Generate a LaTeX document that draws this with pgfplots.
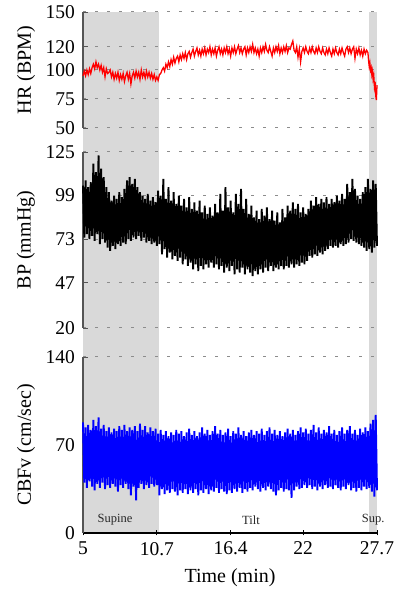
\documentclass[border=0pt]{standalone}
\usepackage{fontspec}
\setmainfont{Liberation Serif}
\usepackage{pgfplots}
\pgfplotsset{compat=1.18}
\definecolor{shade}{RGB}{217,217,217}
\definecolor{axgray}{RGB}{85,85,85}
\definecolor{gridgray}{RGB}{140,140,140}
\pgfplotsset{
  panel/.style={
    set layers, clip=false,
    scale only axis, width=294pt,
    xmin=5, xmax=27.7,
    axis y line=left,
    y axis line style={-, line width=1.8pt, axgray},
    tick align=inside,
    major tick length=5pt,
    ytick style={axgray, line width=0.8pt},
    ymajorgrids,
    major grid style={gridgray, line width=1pt, dash pattern=on 2.5pt off 9.5pt},
    /pgf/number format/assume math mode=true,
    tick label style={font=\fontsize{19.5}{22}\selectfont},
    label style={font=\fontsize{20}{23}\selectfont},
    yticklabel style={xshift=-4.5pt},
    ylabel style={at={(axis description cs:-0.194,0.5)}, anchor=center},
  }
}
\begin{document}
\begin{tikzpicture}
\path (0,0) rectangle (394pt,593pt);
% ---------------- HR ----------------
\begin{axis}[panel, at={(83pt,465pt)}, anchor=south west, height=116pt,
  axis x line=none, xtick=\empty,
  ymin=50, ymax=150, ytick={50,75,100,120,150}, ylabel={HR (BPM)}]
\addplot[fill=shade, draw=none, on layer=axis background, forget plot] coordinates {(5,29.3) (10.84,29.3) (10.84,150) (5,150)} -- cycle;
\addplot[fill=shade, draw=none, on layer=axis background, forget plot] coordinates {(27.08,29.3) (27.7,29.3) (27.7,150) (27.08,150)} -- cycle;
\addplot[red, line width=1.3pt] coordinates {
(5.0,95)(5.1,99)(5.2,95)(5.3,100)(5.4,96)(5.5,101)(5.6,97)(5.7,102)(5.8,105)(5.9,101)
(6.0,107)(6.1,102)(6.2,105)(6.3,100)(6.4,104)(6.5,98)(6.6,102)(6.7,94)(6.8,101)(6.9,97)
(7.0,98)(7.1,100)(7.2,94)(7.3,98)(7.4,92)(7.5,97)(7.6,93)(7.7,98)(7.8,91)(7.9,96)
(8.0,92)(8.1,97)(8.2,90)(8.3,95)(8.4,98)(8.5,92)(8.6,97)(8.7,88)(8.8,95)(8.9,98)
(9.0,93)(9.1,99)(9.2,94)(9.3,98)(9.4,92)(9.5,100)(9.6,94)(9.7,98)(9.8,93)(9.9,99)
(10.0,94)(10.1,98)(10.2,93)(10.3,97)(10.4,92)(10.5,96)(10.6,91)(10.7,94)(10.8,91)(10.9,96)
(11.0,97)(11.1,100)(11.2,102)(11.3,99)(11.4,105)(11.5,102)(11.6,107)(11.7,103)(11.8,109)(11.9,105)
(12.0,111)(12.1,106)(12.2,110)(12.3,112)(12.4,107)(12.5,113)(12.6,109)(12.7,114)(12.8,110)(12.9,115)
(13.0,109)(13.1,114)(13.2,116)(13.3,111)(13.4,115)(13.5,118)(13.6,112)(13.7,116)(13.8,119)(13.9,113)
(14.0,117)(14.1,112)(14.2,118)(14.3,114)(14.4,119)(14.5,113)(14.6,118)(14.7,115)(14.8,120)(14.9,113)
(15.0,118)(15.1,114)(15.2,119)(15.3,112)(15.4,117)(15.5,120)(15.6,114)(15.7,118)(15.8,113)(15.9,119)
(16.0,115)(16.1,120)(16.2,114)(16.3,118)(16.4,112)(16.5,119)(16.6,115)(16.7,120)(16.8,114)(16.9,118)
(17.0,121)(17.1,115)(17.2,119)(17.3,114)(17.4,118)(17.5,120)(17.6,113)(17.7,119)(17.8,115)(17.9,120)
(18.0,116)(18.1,122)(18.2,115)(18.3,119)(18.4,114)(18.5,118)(18.6,112)(18.7,119)(18.8,115)(18.9,120)
(19.0,116)(19.1,122)(19.2,117)(19.3,115)(19.4,120)(19.5,116)(19.6,112)(19.7,119)(19.8,115)(19.9,120)
(20.0,116)(20.1,121)(20.2,114)(20.3,119)(20.4,115)(20.5,120)(20.6,116)(20.7,121)(20.8,115)(20.9,119)
(21.0,118)(21.1,122)(21.2,125)(21.3,117)(21.4,115)(21.5,120)(21.6,111)(21.7,118)(21.8,107)(21.9,116)
(22.0,119)(22.1,115)(22.2,120)(22.3,116)(22.4,114)(22.5,119)(22.6,115)(22.7,120)(22.8,116)(22.9,114)
(23.0,119)(23.1,115)(23.2,120)(23.3,116)(23.4,114)(23.5,119)(23.6,115)(23.7,113)(23.8,118)(23.9,114)
(24.0,119)(24.1,115)(24.2,112)(24.3,118)(24.4,114)(24.5,119)(24.6,115)(24.7,113)(24.8,118)(24.9,114)
(25.0,119)(25.1,115)(25.2,112)(25.3,118)(25.4,120)(25.5,115)(25.6,119)(25.7,114)(25.8,118)(25.9,120)
(26.0,110)(26.1,118)(26.2,114)(26.3,119)(26.4,113)(26.5,117)(26.6,112)(26.7,118)(26.8,114)(26.9,117)
(27.0,115)(27.05,108)(27.1,103)(27.15,106)(27.2,100)(27.25,102)(27.3,96)(27.35,99)(27.4,92)(27.45,95)
(27.5,86)(27.55,90)(27.6,78)(27.65,74)(27.7,87)
};
\end{axis}
% ---------------- BP ----------------
\begin{axis}[panel, at={(83pt,265pt)}, anchor=south west, height=176pt,
  axis x line=none, xtick=\empty,
  ymin=20, ymax=125, ytick={20,47,73,99,125}, ylabel={BP (mmHg)}]
\addplot[fill=shade, draw=none, on layer=axis background, forget plot] coordinates {(5,2.7) (10.84,2.7) (10.84,125) (5,125)} -- cycle;
\addplot[fill=shade, draw=none, on layer=axis background, forget plot] coordinates {(27.08,2.7) (27.7,2.7) (27.7,125) (27.08,125)} -- cycle;
\addplot[black, line width=1.9pt] coordinates {
(5.0,105)(5.1,74)(5.2,108)(5.3,76)(5.4,104)(5.5,73)(5.6,107)(5.7,75)(5.8,118)(5.9,72)
(6.0,113)(6.1,76)(6.2,123)(6.3,70)(6.4,115)(6.5,73)(6.6,110)(6.7,71)(6.8,104)(6.9,68)
(7.0,101)(7.1,66)(7.2,96)(7.3,69)(7.4,99)(7.5,67)(7.6,97)(7.7,70)(7.8,101)(7.9,69)
(8.0,98)(8.1,71)(8.2,103)(8.3,70)(8.4,108)(8.5,73)(8.6,110)(8.7,72)(8.8,106)(8.9,74)
(9.0,109)(9.1,73)(9.2,104)(9.3,75)(9.4,101)(9.5,72)(9.6,99)(9.7,74)(9.8,97)(9.9,71)
(10.0,100)(10.1,72)(10.2,96)(10.3,70)(10.4,98)(10.5,71)(10.6,95)(10.7,69)(10.8,102)(10.9,70)
(11.0,99)(11.1,64)(11.2,109)(11.3,67)(11.4,97)(11.5,62)(11.6,104)(11.7,65)(11.8,96)(11.9,61)
(12.0,101)(12.1,63)(12.2,94)(12.3,60)(12.4,99)(12.5,62)(12.6,93)(12.7,58)(12.8,97)(12.9,61)
(13.0,92)(13.1,57)(13.2,98)(13.3,59)(13.4,91)(13.5,55)(13.6,95)(13.7,58)(13.8,90)(13.9,54)
(14.0,96)(14.1,57)(14.2,89)(14.3,55)(14.4,93)(14.5,58)(14.6,88)(14.7,56)(14.8,92)(14.9,59)
(15.0,87)(15.1,56)(15.2,94)(15.3,58)(15.4,89)(15.5,55)(15.6,100)(15.7,57)(15.8,90)(15.9,53)
(16.0,104)(16.1,56)(16.2,92)(16.3,54)(16.4,96)(16.5,57)(16.6,89)(16.7,52)(16.8,100)(16.9,55)
(17.0,94)(17.1,53)(17.2,103)(17.3,56)(17.4,91)(17.5,52)(17.6,97)(17.7,55)(17.8,88)(17.9,53)
(18.0,93)(18.1,51)(18.2,86)(18.3,54)(18.4,90)(18.5,52)(18.6,85)(18.7,55)(18.8,91)(18.9,53)
(19.0,87)(19.1,56)(19.2,92)(19.3,54)(19.4,85)(19.5,57)(19.6,90)(19.7,54)(19.8,84)(19.9,56)
(20.0,89)(20.1,55)(20.2,83)(20.3,57)(20.4,91)(20.5,55)(20.6,86)(20.7,57)(20.8,93)(20.9,56)
(21.0,90)(21.1,58)(21.2,95)(21.3,56)(21.4,91)(21.5,58)(21.6,94)(21.7,57)(21.8,89)(21.9,59)
(22.0,92)(22.1,58)(22.2,88)(22.3,60)(22.4,91)(22.5,63)(22.6,96)(22.7,62)(22.8,93)(22.9,64)
(23.0,98)(23.1,63)(23.2,94)(23.3,65)(23.4,97)(23.5,64)(23.6,95)(23.7,66)(23.8,98)(23.9,67)
(24.0,94)(24.1,69)(24.2,97)(24.3,68)(24.4,95)(24.5,69)(24.6,99)(24.7,68)(24.8,96)(24.9,70)
(25.0,100)(25.1,69)(25.2,97)(25.3,70)(25.4,106)(25.5,71)(25.6,101)(25.7,73)(25.8,109)(25.9,72)
(26.0,103)(26.1,71)(26.2,99)(26.3,70)(26.4,97)(26.5,69)(26.6,101)(26.7,68)(26.8,104)(26.9,66)
(27.0,109)(27.1,67)(27.2,103)(27.3,65)(27.4,108)(27.5,68)(27.6,106)(27.7,69)
};
\end{axis}
% ---------------- CBFv ----------------
\begin{axis}[panel, at={(83pt,60pt)}, anchor=south west, height=176pt,
  axis x line=bottom,
  x axis line style={-, line width=1.8pt, black},
  xtick style={black, line width=0.8pt},
  xtick={5,10.7,16.4,22,27.7}, xticklabels={5,10.7,16.4,22,27.7},
  xticklabel style={yshift=-3pt},
  xlabel={Time (min)},
  xlabel style={at={(axis description cs:0.5,-0.256)}, anchor=center},
  ymin=0, ymax=140, ytick={0,70,140}, ylabel={CBFv (cm/sec)}]
\addplot[fill=shade, draw=none, on layer=axis background, forget plot] coordinates {(5,0) (10.84,0) (10.84,140) (5,140)} -- cycle;
\addplot[fill=shade, draw=none, on layer=axis background, forget plot] coordinates {(27.08,0) (27.7,0) (27.7,140) (27.08,140)} -- cycle;
\addplot[blue, line width=1.9pt] coordinates {
(5.0,88)(5.1,40)(5.2,84)(5.3,36)(5.4,86)(5.5,41)(5.6,82)(5.7,37)(5.8,90)(5.9,34)
(6.0,85)(6.1,39)(6.2,92)(6.3,36)(6.4,83)(6.5,40)(6.6,86)(6.7,35)(6.8,81)(6.9,38)
(7.0,84)(7.1,36)(7.2,80)(7.3,39)(7.4,83)(7.5,37)(7.6,81)(7.7,33)(7.8,85)(7.9,38)
(8.0,82)(8.1,36)(8.2,86)(8.3,39)(8.4,81)(8.5,35)(8.6,84)(8.7,30)(8.8,82)(8.9,37)
(9.0,85)(9.1,26)(9.2,81)(9.3,36)(9.4,87)(9.5,39)(9.6,82)(9.7,35)(9.8,85)(9.9,38)
(10.0,80)(10.1,36)(10.2,84)(10.3,39)(10.4,81)(10.5,37)(10.6,83)(10.7,38)(10.8,79)(10.9,30)
(11.0,82)(11.1,35)(11.2,78)(11.3,31)(11.4,81)(11.5,34)(11.6,77)(11.7,32)(11.8,80)(11.9,35)
(12.0,78)(12.1,33)(12.2,82)(12.3,30)(12.4,79)(12.5,34)(12.6,81)(12.7,32)(12.8,77)(12.9,35)
(13.0,80)(13.1,31)(13.2,83)(13.3,34)(13.4,78)(13.5,32)(13.6,81)(13.7,35)(13.8,77)(13.9,30)
(14.0,80)(14.1,34)(14.2,84)(14.3,32)(14.4,79)(14.5,35)(14.6,82)(14.7,31)(14.8,78)(14.9,34)
(15.0,81)(15.1,33)(15.2,85)(15.3,36)(15.4,79)(15.5,32)(15.6,82)(15.7,35)(15.8,78)(15.9,33)
(16.0,80)(16.1,31)(16.2,83)(16.3,34)(16.4,77)(16.5,32)(16.6,81)(16.7,35)(16.8,79)(16.9,33)
(17.0,84)(17.1,36)(17.2,78)(17.3,32)(17.4,81)(17.5,35)(17.6,77)(17.7,33)(17.8,80)(17.9,36)
(18.0,82)(18.1,34)(18.2,78)(18.3,37)(18.4,81)(18.5,35)(18.6,79)(18.7,33)(18.8,83)(18.9,36)
(19.0,78)(19.1,34)(19.2,81)(19.3,37)(19.4,84)(19.5,35)(19.6,79)(19.7,33)(19.8,82)(19.9,30)
(20.0,78)(20.1,34)(20.2,81)(20.3,36)(20.4,77)(20.5,33)(20.6,80)(20.7,35)(20.8,83)(20.9,34)
(21.0,79)(21.1,28)(21.2,82)(21.3,34)(21.4,78)(21.5,37)(21.6,81)(21.7,35)(21.8,84)(21.9,36)
(22.0,80)(22.1,38)(22.2,83)(22.3,36)(22.4,79)(22.5,38)(22.6,82)(22.7,35)(22.8,86)(22.9,37)
(23.0,80)(23.1,34)(23.2,84)(23.3,37)(23.4,79)(23.5,35)(23.6,82)(23.7,38)(23.8,80)(23.9,36)
(24.0,85)(24.1,37)(24.2,79)(24.3,35)(24.4,82)(24.5,38)(24.6,78)(24.7,36)(24.8,81)(24.9,34)
(25.0,84)(25.1,37)(25.2,79)(25.3,35)(25.4,82)(25.5,38)(25.6,85)(25.7,34)(25.8,79)(25.9,36)
(26.0,82)(26.1,33)(26.2,78)(26.3,36)(26.4,83)(26.5,34)(26.6,80)(26.7,37)(26.8,84)(26.9,35)
(27.0,81)(27.1,36)(27.2,87)(27.3,33)(27.4,90)(27.5,29)(27.6,94)(27.7,34)
};
\node[font=\fontsize{12.5}{14}\selectfont, text=black!85] at (axis cs:7.47,10.3) {Supine};
\node[font=\fontsize{12.5}{14}\selectfont, text=black!85] at (axis cs:17.97,10.3) {Tilt};
\node[font=\fontsize{12.5}{14}\selectfont, text=black!85] at (axis cs:27.4,10.3) {Sup.};
\end{axis}
\end{tikzpicture}
\end{document}
